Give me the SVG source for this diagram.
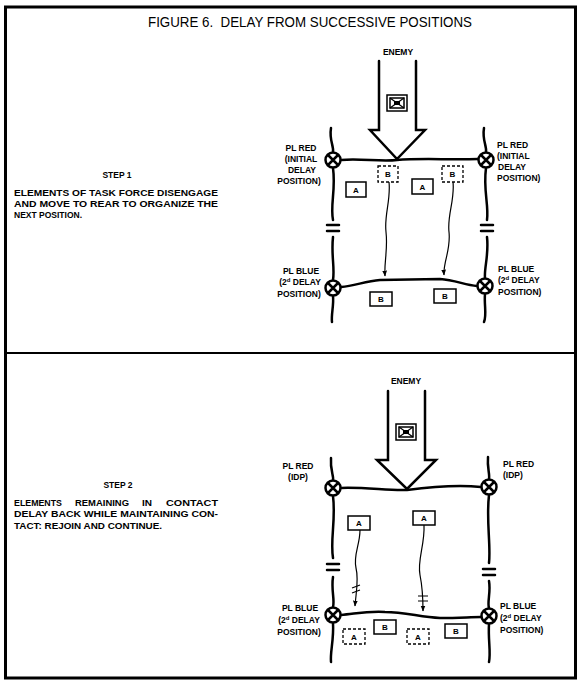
<svg xmlns="http://www.w3.org/2000/svg" width="580" height="690" viewBox="0 0 580 690">
<style>
.t{font-family:"Liberation Sans",Arial,sans-serif;font-weight:bold;font-size:8.5px;fill:#000}
.title{font-family:"Liberation Sans",Arial,sans-serif;font-size:15px;fill:#000}
.ln{fill:none;stroke:#000;stroke-width:2.5;stroke-linecap:round}
.thin{fill:none;stroke:#000;stroke-width:1.2}
.box{fill:#fff;stroke:#000;stroke-width:1.5}
.dbox{fill:#fff;stroke:#000;stroke-width:1.3;stroke-dasharray:3 2}
.c{fill:#fff;stroke:#000;stroke-width:2.5}
.bt{font-family:"Liberation Sans",Arial,sans-serif;font-weight:bold;font-size:8.5px;text-anchor:middle}
.bx{font-family:"Liberation Sans",Arial,sans-serif;font-weight:bold;font-size:8px;text-anchor:middle}
</style>
<defs>
<g id="pl">
<circle class="c" cx="0" cy="0" r="7.5"/>
<path d="M-5,-5 L5,5 M5,-5 L-5,5" stroke="#000" stroke-width="2.5"/>
</g>
<g id="en">
<rect x="-10" y="-8" width="20" height="16" fill="#fff" stroke="#000" stroke-width="1.5"/>
<rect x="-7" y="-5" width="14" height="10" fill="#fff" stroke="#000" stroke-width="1.5"/>
<path d="M-7,-5 L7,5 M7,-5 L-7,5" stroke="#000" stroke-width="1.2"/>
<path d="M-3,-2 H3 V2 H-3 Z" fill="#000"/>
</g>
<marker id="ah" viewBox="0 0 10 10" refX="9" refY="5" markerWidth="5" markerHeight="6" orient="auto">
<path d="M0,1 L10,5 L0,9 Z" fill="#000"/>
</marker>
</defs>

<rect x="5.5" y="7" width="570" height="671" fill="#fff" stroke="#000" stroke-width="3"/>
<text class="title" x="148" y="27" textLength="324" lengthAdjust="spacingAndGlyphs" xml:space="preserve">FIGURE 6.  DELAY FROM SUCCESSIVE POSITIONS</text>
<line x1="5" y1="353" x2="576" y2="353" stroke="#000" stroke-width="2"/>

<g id="step1-text">
<text class="t" x="117" y="178" text-anchor="middle">STEP 1</text>
<text class="t" x="14" y="196" textLength="204" lengthAdjust="spacingAndGlyphs">ELEMENTS OF TASK FORCE DISENGAGE</text>
<text class="t" x="14" y="207" textLength="204" lengthAdjust="spacingAndGlyphs">AND MOVE TO REAR TO ORGANIZE THE</text>
<text class="t" x="14" y="218" textLength="68" lengthAdjust="spacingAndGlyphs">NEXT POSITION.</text>
</g>

<g id="step2-text">
<text class="t" x="118" y="488" text-anchor="middle">STEP 2</text>
<text class="t" x="14" y="506" textLength="48" lengthAdjust="spacingAndGlyphs">ELEMENTS</text>
<text class="t" x="75" y="506" textLength="54" lengthAdjust="spacingAndGlyphs">REMAINING</text>
<text class="t" x="142" y="506" textLength="10" lengthAdjust="spacingAndGlyphs">IN</text>
<text class="t" x="166" y="506" textLength="52" lengthAdjust="spacingAndGlyphs">CONTACT</text>
<text class="t" x="14" y="517" textLength="204" lengthAdjust="spacingAndGlyphs">DELAY BACK WHILE MAINTAINING CON-</text>
<text class="t" x="14" y="529" textLength="148" lengthAdjust="spacingAndGlyphs">TACT: REJOIN AND CONTINUE.</text>
</g>

<g id="connectors">
<!-- step 1 -->
<path class="ln" d="M379,61 V130 H370 L397,159 L425,130 H416 V61" fill="#fff"/>
<path class="ln" d="M341,160 C360,158 380,162 397,160 C420,158 450,160 478,159"/>
<path class="ln" d="M331,128 C329,140 334,146 333,152"/>
<path class="ln" d="M333,168 C336,190 330,205 333,220"/>
<path class="ln" d="M327,225 H339 M327,231 H339"/>
<path class="ln" d="M333,237 C331,255 335,268 333,280"/>
<path class="ln" d="M333,296 C334,305 331,315 332,322"/>
<path class="ln" d="M484,128 C482,140 487,146 486,152"/>
<path class="ln" d="M486,168 C483,190 489,205 487,220"/>
<path class="ln" d="M481,225 H493 M481,231 H493"/>
<path class="ln" d="M487,237 C489,255 484,268 485,278"/>
<path class="ln" d="M485,294 C484,305 487,315 484,322"/>
<path class="ln" d="M341,287 C355,286 365,281 380,280 L440,279 C455,280 465,285 477,286"/>
<path class="thin" d="M389,182 C391,200 384,215 386,232 C388,250 384,262 385,276" marker-end="url(#ah)"/>
<path class="thin" d="M453,182 C455,200 447,215 449,232 C451,250 443,262 444,275" marker-end="url(#ah)"/>
<!-- step 2 -->
<path class="ln" d="M388,391 V460 H377 L407,489 L436,460 H425 V391" fill="#fff"/>
<path class="ln" d="M341,488 C365,487 390,491 407,490 C430,487 460,485 481,487"/>
<path class="ln" d="M331,458 C330,470 334,476 333,480"/>
<path class="ln" d="M333,496 C336,520 330,540 333,558"/>
<path class="ln" d="M327,564 H339 M327,570 H339"/>
<path class="ln" d="M333,577 C331,590 335,600 333,607"/>
<path class="ln" d="M333,623 C334,640 330,652 331,662"/>
<path class="ln" d="M488,457 C487,468 490,474 489,479"/>
<path class="ln" d="M489,495 C486,520 491,545 489,563"/>
<path class="ln" d="M483,569 H495 M483,575 H495"/>
<path class="ln" d="M489,581 C491,592 487,602 489,608"/>
<path class="ln" d="M489,624 C488,640 491,652 489,662"/>
<path class="ln" d="M341,615 C355,614 365,611 385,612 C405,612 420,617 440,618 C460,618 470,617 481,617"/>
<path class="thin" d="M360,530 C360,545 353,555 356,568 C359,580 356,592 355,606" marker-end="url(#ah)"/>
<path class="thin" d="M352,588 L360,585 M352,593 L360,590"/>
<path class="thin" d="M424,525 C425,545 417,560 420,575 C423,590 423,600 423,611" marker-end="url(#ah)"/>
<path class="thin" d="M418,596 H428 M418,601 H428"/>
</g>

<g id="enemy1"><text class="bt" x="398" y="55">ENEMY</text><use href="#en" x="397" y="103"/></g>
<g id="enemy2"><text class="bt" x="406" y="384">ENEMY</text><use href="#en" x="406" y="432"/></g>

<g id="plred1-left"><use href="#pl" x="333" y="160"/>
<text class="bt" x="301" y="151">PL RED</text><text class="bt" x="301" y="162">(INITIAL</text><text class="bt" x="302" y="173">DELAY</text><text class="bt" x="299" y="184">POSITION)</text></g>
<g id="plred1-right"><use href="#pl" x="486" y="160"/>
<text class="t" x="497" y="148">PL RED</text><text class="t" x="497" y="159">(INITIAL</text><text class="t" x="498" y="170">DELAY</text><text class="t" x="497" y="181">POSITION)</text></g>
<g id="plblue1-left"><use href="#pl" x="333" y="288"/>
<text class="bt" x="301" y="274">PL BLUE</text><text class="bt" x="300" y="285">(2<tspan dy="-3" font-size="6">d</tspan><tspan dy="3"> DELAY</tspan></text><text class="bt" x="299" y="297">POSITION)</text></g>
<g id="plblue1-right"><use href="#pl" x="485" y="286"/>
<text class="t" x="498" y="272">PL BLUE</text><text class="t" x="498" y="283">(2<tspan dy="-3" font-size="6">d</tspan><tspan dy="3"> DELAY</tspan></text><text class="t" x="498" y="295">POSITION)</text></g>

<g id="b1-dashed"><rect class="dbox" x="378" y="166" width="20" height="16"/><text class="bx" x="388" y="177">B</text></g>
<g id="b2-dashed"><rect class="dbox" x="442" y="166" width="21" height="16"/><text class="bx" x="452.5" y="177">B</text></g>
<g id="a1"><rect class="box" x="346" y="182" width="20" height="15"/><text class="bx" x="356" y="192.5">A</text></g>
<g id="a2"><rect class="box" x="412" y="179" width="21" height="15"/><text class="bx" x="422.5" y="189.5">A</text></g>
<g id="b1"><rect class="box" x="370" y="292" width="22" height="14"/><text class="bx" x="381" y="302">B</text></g>
<g id="b2"><rect class="box" x="434" y="289" width="22" height="14"/><text class="bx" x="445" y="299">B</text></g>

<g id="plred2-left"><use href="#pl" x="333" y="488"/>
<text class="bt" x="298" y="469">PL RED</text><text class="bt" x="298" y="480">(IDP)</text></g>
<g id="plred2-right"><use href="#pl" x="489" y="487"/>
<text class="t" x="503" y="467">PL RED</text><text class="t" x="503" y="478">(IDP)</text></g>
<g id="plblue2-left"><use href="#pl" x="333" y="615"/>
<text class="bt" x="300" y="611">PL BLUE</text><text class="bt" x="299" y="623">(2<tspan dy="-3" font-size="6">d</tspan><tspan dy="3"> DELAY</tspan></text><text class="bt" x="299" y="635">POSITION)</text></g>
<g id="plblue2-right"><use href="#pl" x="489" y="616"/>
<text class="t" x="500" y="609">PL BLUE</text><text class="t" x="500" y="621">(2<tspan dy="-3" font-size="6">d</tspan><tspan dy="3"> DELAY</tspan></text><text class="t" x="500" y="633">POSITION)</text></g>

<g id="a3"><rect class="box" x="348" y="516" width="22" height="14"/><text class="bx" x="359" y="526">A</text></g>
<g id="a4"><rect class="box" x="413" y="511" width="22" height="14"/><text class="bx" x="424" y="521">A</text></g>
<g id="a5-dashed"><rect class="dbox" x="343" y="629" width="22" height="15"/><text class="bx" x="354" y="639.5">A</text></g>
<g id="b3"><rect class="box" x="374" y="620" width="22" height="14"/><text class="bx" x="385" y="630">B</text></g>
<g id="a6-dashed"><rect class="dbox" x="407" y="629" width="22" height="15"/><text class="bx" x="418" y="639.5">A</text></g>
<g id="b4"><rect class="box" x="445" y="624" width="22" height="14"/><text class="bx" x="456" y="634">B</text></g>
</svg>
